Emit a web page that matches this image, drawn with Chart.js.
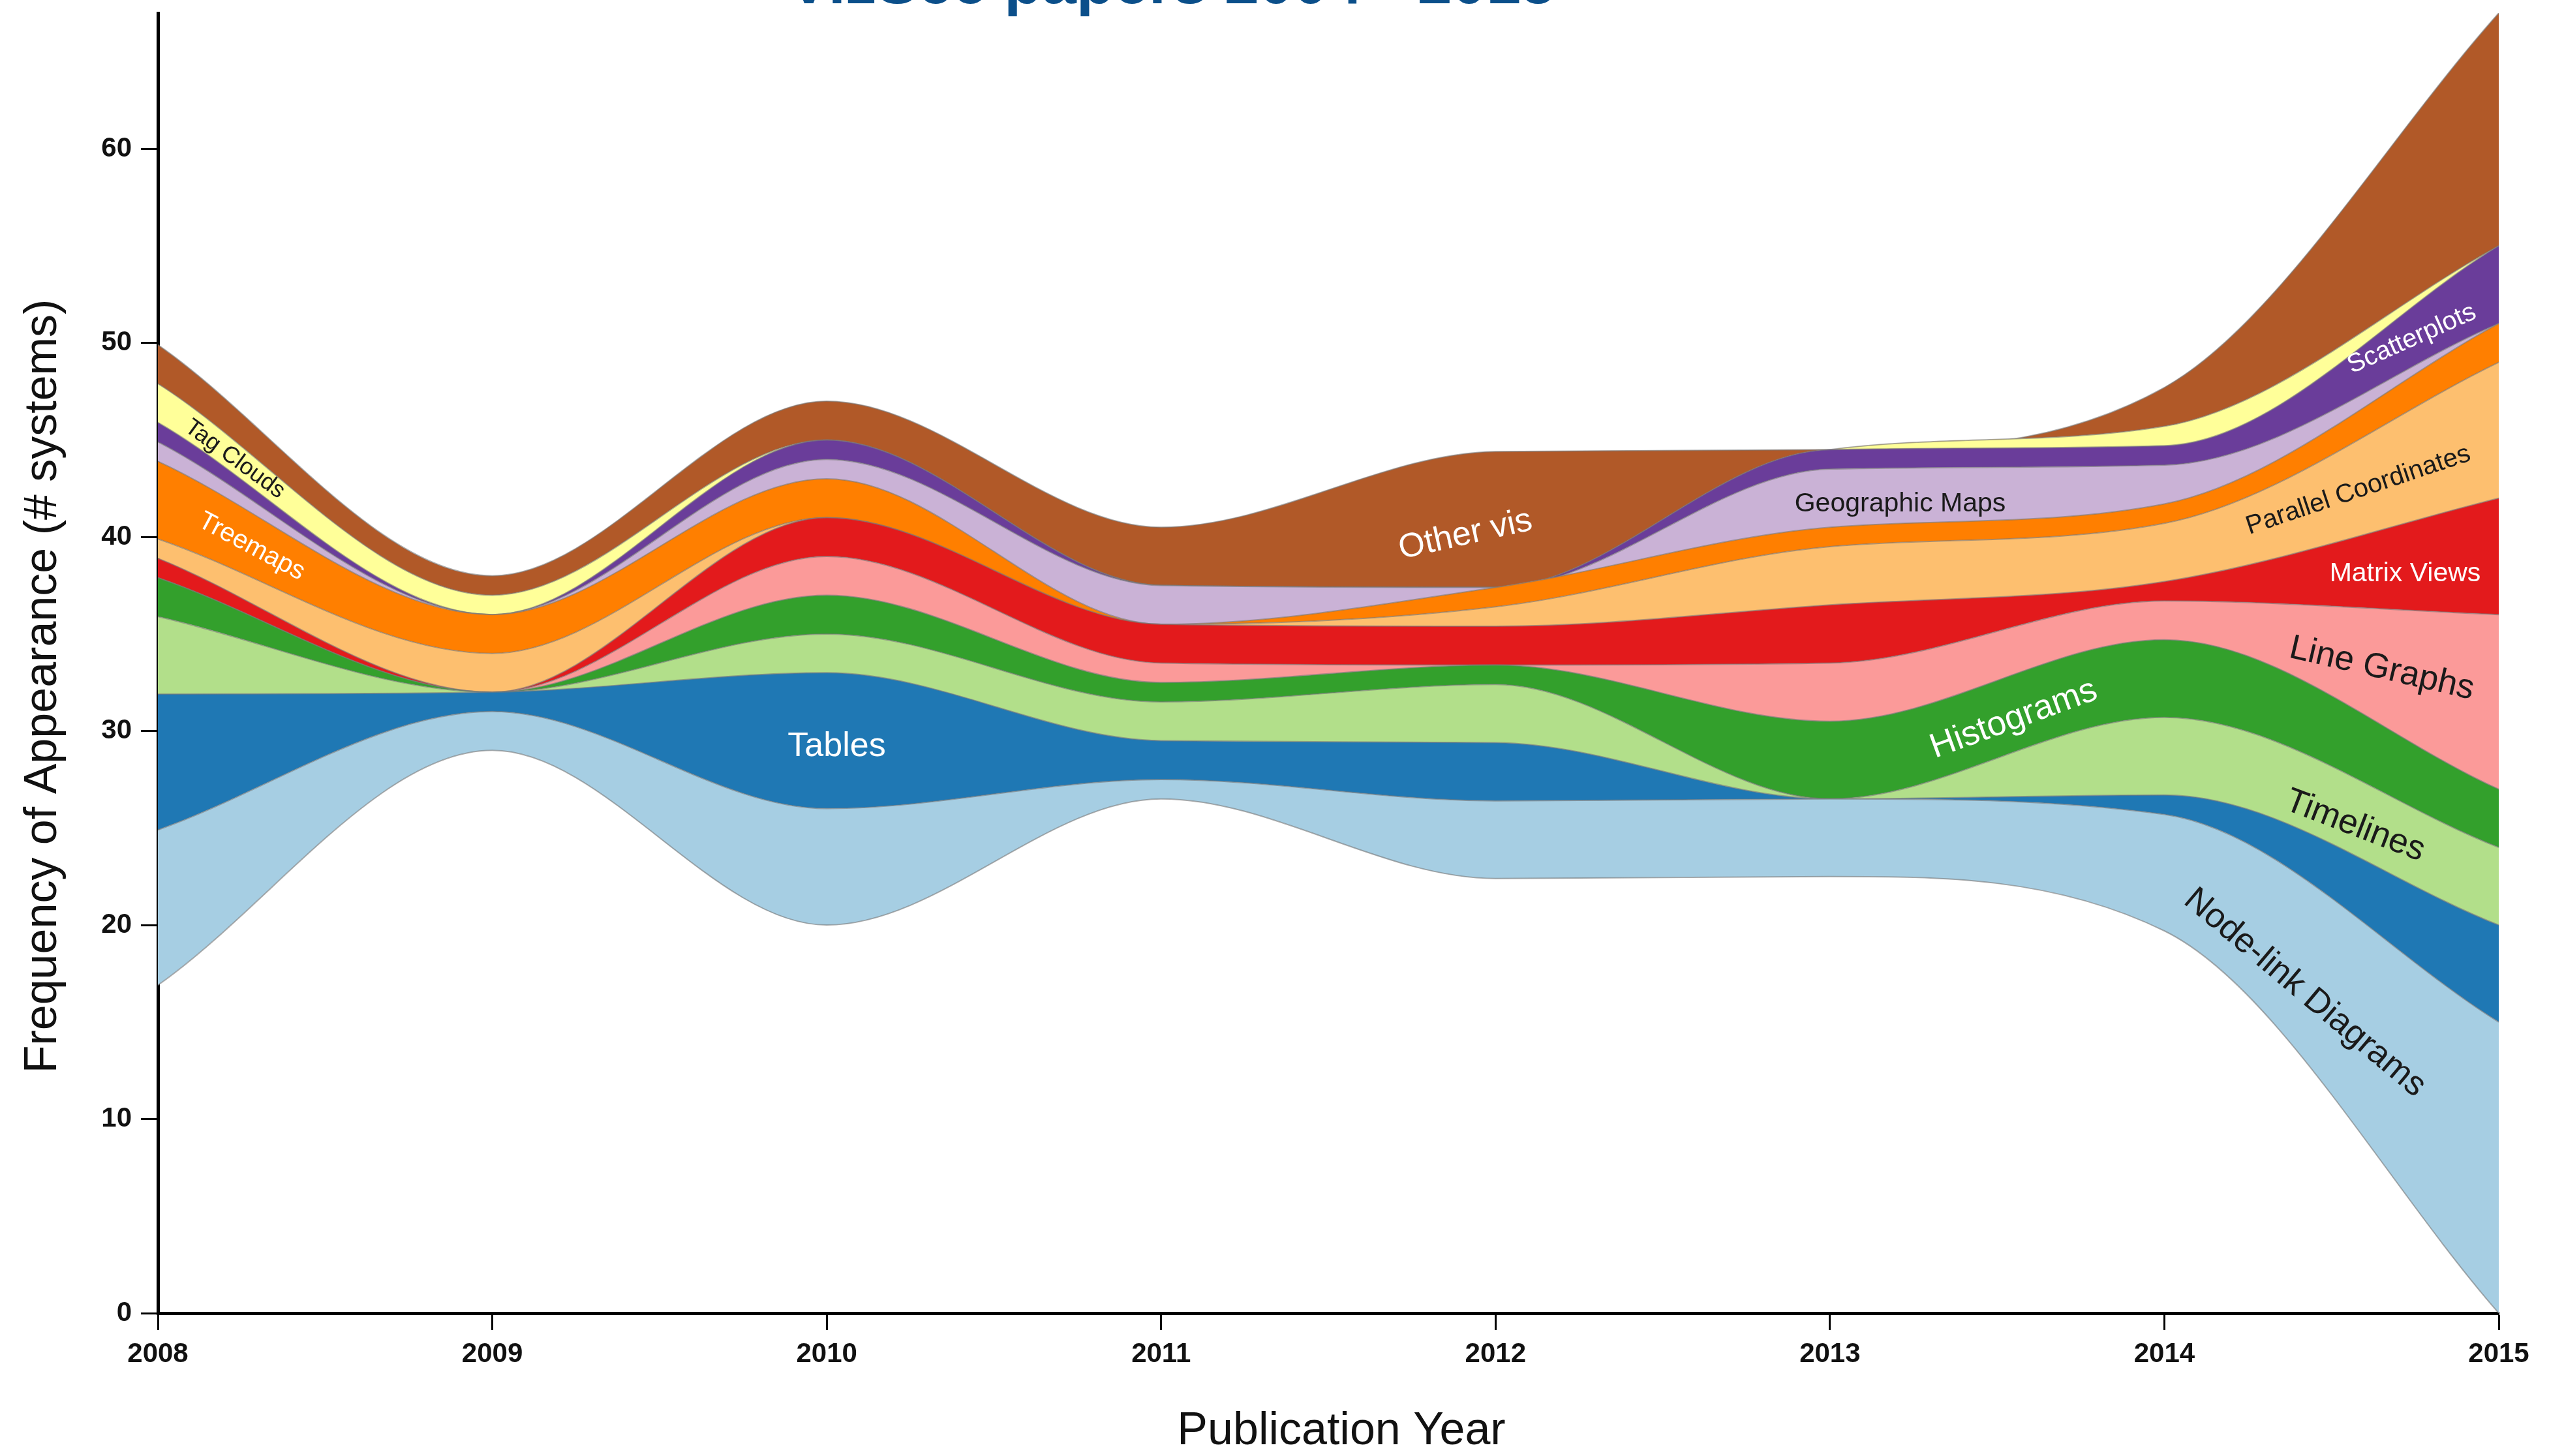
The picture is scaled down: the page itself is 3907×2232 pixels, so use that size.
<!DOCTYPE html>
<html>
<head>
<meta charset="utf-8">
<title>VizSec papers 2004 - 2015</title>
<script src="https://cdn.jsdelivr.net/npm/chart.js@4.4.1/dist/chart.umd.min.js"></script>
<style>
  html, body { margin: 0; padding: 0; background: #ffffff; }
  #wrap { width: 3907px; height: 2232px; }
</style>
</head>
<body>
<div id="wrap"><canvas id="streamGraph" width="3907" height="2232"></canvas></div>
<script>
// Publication years on the x axis
const years = [2008, 2009, 2010, 2011, 2012, 2013, 2014, 2015];

// Stream baseline (bottom edge of the whole stream) per year
const baseline = [16.9, 29, 20, 26.5, 22.4, 22.5, 19.7, 0];

// Number of systems per visualization type, bottom layer first
const nodeLink = [8, 2, 6, 1, 4, 4, 6, 15];
const tables = [7, 1, 7, 2, 3, 0, 1, 5];
const timelines = [4, 0, 2, 2, 3, 0, 4, 4];
const histograms = [2, 0, 2, 1, 1, 4, 4, 3];
const lineGraphs = [0, 0, 2, 1, 0, 3, 2, 9];
const matrixViews = [1, 0, 2, 2, 2, 3, 1, 6];
const parallelCoords = [1, 2, 0, 0, 1, 3, 3, 7];
const treemaps = [4, 2, 2, 0, 1, 1, 1, 2];
const geoMaps = [1, 0, 1, 2, 0, 3, 2, 0];
const scatterplots = [1, 0, 1, 0, 0, 1, 1, 4];
const tagClouds = [2, 1, 0, 0, 0, 0, 1, 0];
const otherVis = [2, 1, 2, 3, 7, 0, 2, 12];

const layerNames = [
  "Node-link Diagrams", "Tables", "Timelines", "Histograms", "Line Graphs",
  "Matrix Views", "Parallel Coordinates", "Treemaps", "Geographic Maps",
  "Scatterplots", "Tag Clouds", "Other vis",
];
const layerValues = [
  nodeLink, tables, timelines, histograms, lineGraphs, matrixViews,
  parallelCoords, treemaps, geoMaps, scatterplots, tagClouds, otherVis,
];
const yTicks = [0, 10, 20, 30, 40, 50, 60];

// colours (d3 "Paired" scheme)
const layerColors = [
  "#a6cee3", "#1f78b4", "#b2df8a", "#33a02c", "#fb9a99", "#e31a1c",
  "#fdbf6f", "#ff7f00", "#cab2d6", "#6a3d9a", "#ffff99", "#b15928",
];

// where each in-stream label sits (data coords), rotation, size, colour
const labelSpots = [
  { x: 2014.42, y: 16.5, rot: 40, size: 53, color: "#1a1a1a" },
  { x: 2010.03, y: 29.2, rot: 0, size: 52, color: "#ffffff" },
  { x: 2014.57, y: 25.1, rot: 21, size: 53, color: "#1a1a1a" },
  { x: 2013.55, y: 30.6, rot: -20, size: 53, color: "#ffffff" },
  { x: 2014.65, y: 33.2, rot: 13, size: 53, color: "#1a1a1a" },
  { x: 2014.72, y: 38.1, rot: 0, size: 41, color: "#ffffff" },
  { x: 2014.58, y: 42.4, rot: -18.5, size: 40, color: "#1a1a1a" },
  { x: 2008.28, y: 39.5, rot: 28, size: 40, color: "#ffffff" },
  { x: 2013.21, y: 41.7, rot: 0, size: 41, color: "#1a1a1a" },
  { x: 2014.74, y: 50.2, rot: -24, size: 40, color: "#ffffff" },
  { x: 2008.23, y: 44.0, rot: 36, size: 36, color: "#1a1a1a" },
  { x: 2011.91, y: 40.1, rot: -12.6, size: 52, color: "#ffffff" },
];

const FONT = "'Liberation Sans', Arial, Helvetica, sans-serif";
const EDGE = "rgba(120,120,120,0.6)";

function toPoints(values) {
  return values.map((v, i) => ({ x: years[i], y: v }));
}

// Build the stacked datasets: an invisible baseline, then each layer filled to the one below
function buildDatasets() {
  const sets = [
    {
      label: "baseline",
      data: toPoints(baseline),
      borderColor: EDGE,
      borderWidth: 2,
      backgroundColor: "rgba(0,0,0,0)",
      fill: false,
    },
  ];
  layerValues.forEach((values, i) => {
    sets.push({
      label: layerNames[i],
      data: toPoints(values),
      borderColor: EDGE,
      borderWidth: 2,
      backgroundColor: layerColors[i],
      fill: "-1",
    });
  });
  return sets;
}

// Title (mostly cut off at the top, like the original) and the two axis titles
const textPlugin = {
  id: "chartTexts",
  afterDraw(chart) {
    const ctx = chart.ctx;
    ctx.save();
    ctx.font = "bold 95px " + FONT;
    ctx.fillStyle = "#0b4f8a";
    ctx.textAlign = "center";
    ctx.textBaseline = "alphabetic";
    ctx.fillText("VizSec papers 2004 - 2015", 1796, 5);

    ctx.font = "70px " + FONT;
    ctx.fillStyle = "#111";
    ctx.textBaseline = "middle";
    ctx.fillText("Publication Year", 2056, 2195);

    ctx.translate(67, 1052);
    ctx.rotate(-Math.PI / 2);
    ctx.fillText("Frequency of Appearance (# systems)", 0, 0);
    ctx.restore();
  },
};

// Names written inside the stream
const streamLabels = {
  id: "streamLabels",
  afterDatasetsDraw(chart) {
    const ctx = chart.ctx;
    const xs = chart.scales.x;
    const ys = chart.scales.y;
    labelSpots.forEach((spot, i) => {
      ctx.save();
      ctx.translate(xs.getPixelForValue(spot.x), ys.getPixelForValue(spot.y));
      ctx.rotate((spot.rot * Math.PI) / 180);
      ctx.font = spot.size + "px " + FONT;
      ctx.fillStyle = spot.color;
      ctx.textAlign = "center";
      ctx.textBaseline = "middle";
      ctx.fillText(layerNames[i], 0, 0);
      ctx.restore();
    });
  },
};

const ctx = document.getElementById("streamGraph").getContext("2d");
const streamChart = new Chart(ctx, {
  type: "line",
  data: { datasets: buildDatasets() },
  plugins: [streamLabels, textPlugin],
  options: {
    responsive: false,
    animation: false,
    layout: { padding: { left: 0, right: 77, top: 20, bottom: 0 } },
    elements: {
      point: { radius: 0, hoverRadius: 0 },
      line: { cubicInterpolationMode: "monotone" },
    },
    plugins: {
      legend: { display: false },
      tooltip: { enabled: false },
      filler: { propagate: false },
    },
    scales: {
      x: {
        type: "linear",
        min: 2008,
        max: 2015,
        ticks: {
          stepSize: 1,
          autoSkip: false,
          maxRotation: 0,
          padding: 12,
          color: "#111",
          font: { family: FONT, size: 42, weight: "bold" },
          callback: (v) => String(v),
        },
        grid: {
          drawOnChartArea: false,
          drawTicks: true,
          tickLength: 26,
          tickWidth: 3,
          tickColor: "#000",
        },
        border: { display: true, color: "#000", width: 5 },
        afterFit: (scale) => {
          scale.height = 219;
          scale.paddingLeft = 0;
          scale.paddingRight = 0;
        },
      },
      y: {
        type: "linear",
        stacked: true,
        min: 0,
        max: 67,
        ticks: {
          stepSize: 10,
          padding: 14,
          color: "#111",
          font: { family: FONT, size: 42, weight: "bold" },
        },
        afterBuildTicks: (scale) => {
          scale.ticks = yTicks.map((v) => ({ value: v }));
        },
        grid: {
          drawOnChartArea: false,
          drawTicks: true,
          tickLength: 26,
          tickWidth: 3,
          tickColor: "#000",
        },
        border: { display: true, color: "#000", width: 5 },
        afterFit: (scale) => {
          scale.width = 242;
          scale.paddingTop = 0;
          scale.paddingBottom = 0;
        },
      },
    },
  },
});
</script>
</body>
</html>
